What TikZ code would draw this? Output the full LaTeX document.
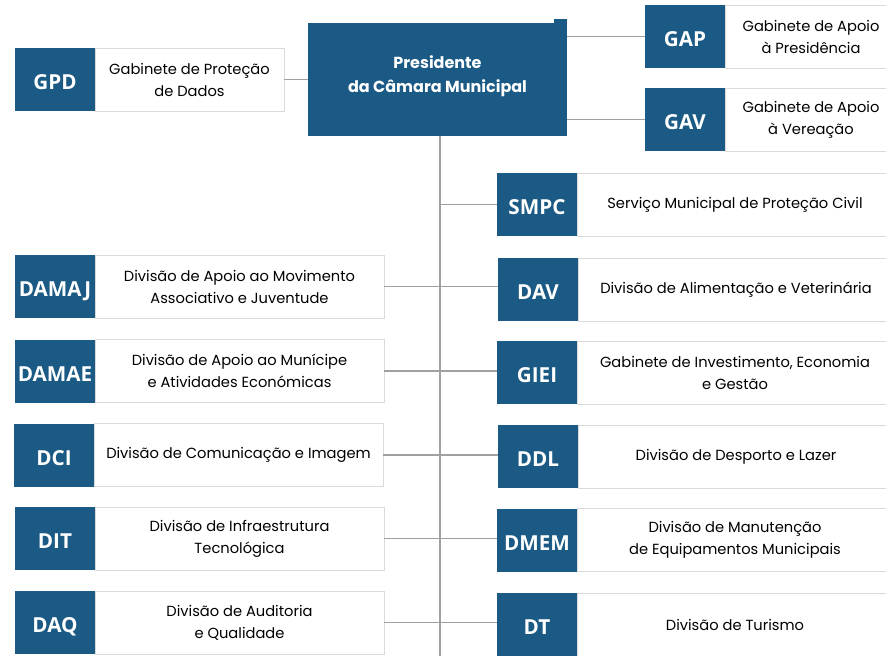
\documentclass[tikz,border=0pt]{standalone}
\usepackage{fontspec}
\setmainfont{Poppins}
\newfontfamily\siglafont{Open Sans}
\usetikzlibrary{positioning}
\definecolor{azul}{RGB}{26,90,132}
\definecolor{borda}{RGB}{218,218,218}
\definecolor{linha}{RGB}{160,160,160}
\tikzstyle{sigla}=[fill=azul, text=white, font=\siglafont\bfseries\fontsize{15.5}{17}\selectfont, text height=15.5pt, text depth=0pt, minimum width=60pt, minimum height=47.25pt, inner sep=0pt, outer sep=0pt]
\tikzstyle{desc}=[draw=borda, line width=0.6pt, fill=white, align=center, font=\fontsize{11}{16.5}\selectfont, minimum height=47.25pt, inner sep=0pt, outer sep=0pt]
\tikzstyle{conn}=[draw=linha, line width=0.8pt]
\newcommand{\sigla}{\node[sigla]}
\newcommand{\desc}{\node[desc]}

\begin{document}
\begin{tikzpicture}[x=0.75pt, y=-0.75pt]
\useasboundingbox (0,0) rectangle (886,656);
% presidente
\node[fill=azul, minimum width=194.25pt, minimum height=84.75pt, inner sep=0pt, outer sep=0pt] (pres) at (437.5,79.5) {};
\fill[azul] (554,19) rectangle (pres.north east);
\node[text=white, align=center, font=\bfseries\fontsize{12}{18}\selectfont] (presT) at (437.5,76) {Presidente\\da Câmara Municipal};
\coordinate (topo) at (440,136);
\coordinate (fundo) at (440,660);
% ligacoes
\path[conn] (topo) -- (fundo);
\path[conn] (pres.east |- 0,36.5) -- (645,36.5) coordinate (gapL);
\path[conn] (pres.east |- 0,119.5) -- (645,119.5) coordinate (gavL);
% lado esquerdo
\sigla (gpd) at (55,79.5) {GPD};
\desc (gpdT) [right=0pt of gpd, minimum width=141.75pt] {Gabinete de Proteção\\de Dados};
\sigla (damaj) at (55,286.5) {DAMAJ};
\desc (damajT) [right=0pt of damaj, minimum width=216.75pt] {Divisão de Apoio ao Movimento\\Associativo e Juventude};
\sigla (damae) at (55,371) {DAMAE};
\desc (damaeT) [right=0pt of damae, minimum width=216.75pt] {Divisão de Apoio ao Munícipe\\e Atividades Económicas};
\sigla (dci) at (54,455) {DCI};
\desc (dciT) [right=0pt of dci, minimum width=216.75pt] {Divisão de Comunicação e Imagem};
\sigla (dit) at (55,538.5) {DIT};
\desc (ditT) [right=0pt of dit, minimum width=216.75pt] {Divisão de Infraestrutura\\Tecnológica};
\sigla (daq) at (55,622.5) {DAQ};
\desc (daqT) [right=0pt of daq, minimum width=216.75pt] {Divisão de Auditoria\\e Qualidade};
% lado direito
\sigla (gap) at (685,36.5) {GAP};
\desc (gapT) [right=0pt of gap, minimum width=129pt] {Gabinete de Apoio\\à Presidência};
\sigla (gav) at (685,119.5) {GAV};
\desc (gavT) [right=0pt of gav, minimum width=129pt] {Gabinete de Apoio\\à Vereação};
\sigla (smpc) at (537,204.5) {SMPC};
\desc (smpcT) [right=0pt of smpc, minimum width=237pt] {Serviço Municipal de Proteção Civil};
\sigla (dav) at (538,289.5) {DAV};
\desc (davT) [right=0pt of dav, minimum width=237pt] {Divisão de Alimentação e Veterinária};
\sigla (giei) at (537,372.5) {GIEI};
\desc (gieiT) [right=0pt of giei, minimum width=237pt] {Gabinete de Investimento, Economia\\e Gestão};
\sigla (ddl) at (538,456.5) {DDL};
\desc (ddlT) [right=0pt of ddl, minimum width=237pt] {Divisão de Desporto e Lazer};
\sigla (dmem) at (537,540) {DMEM};
\desc (dmemT) [right=0pt of dmem, minimum width=237pt] {Divisão de Manutenção\\de Equipamentos Municipais};
\sigla (dt) at (537,624.5) {DT};
\desc (dtT) [right=0pt of dt, minimum width=237pt] {Divisão de Turismo};
% ligacoes ao eixo
\path[conn] (gpdT.east) -- (gpdT.east -| pres.west);
\path[conn] (topo |- smpc.west) -- (smpc.west);
\path[conn] (damajT.east) -- (damajT.east -| dav.west);
\path[conn] (damaeT.east) -- (damaeT.east -| giei.west);
\path[conn] (dciT.east) -- (dciT.east -| ddl.west);
\path[conn] (ditT.east) -- (ditT.east -| dmem.west);
\path[conn] (daqT.east) -- (daqT.east -| dt.west);
\end{tikzpicture}
\end{document}
